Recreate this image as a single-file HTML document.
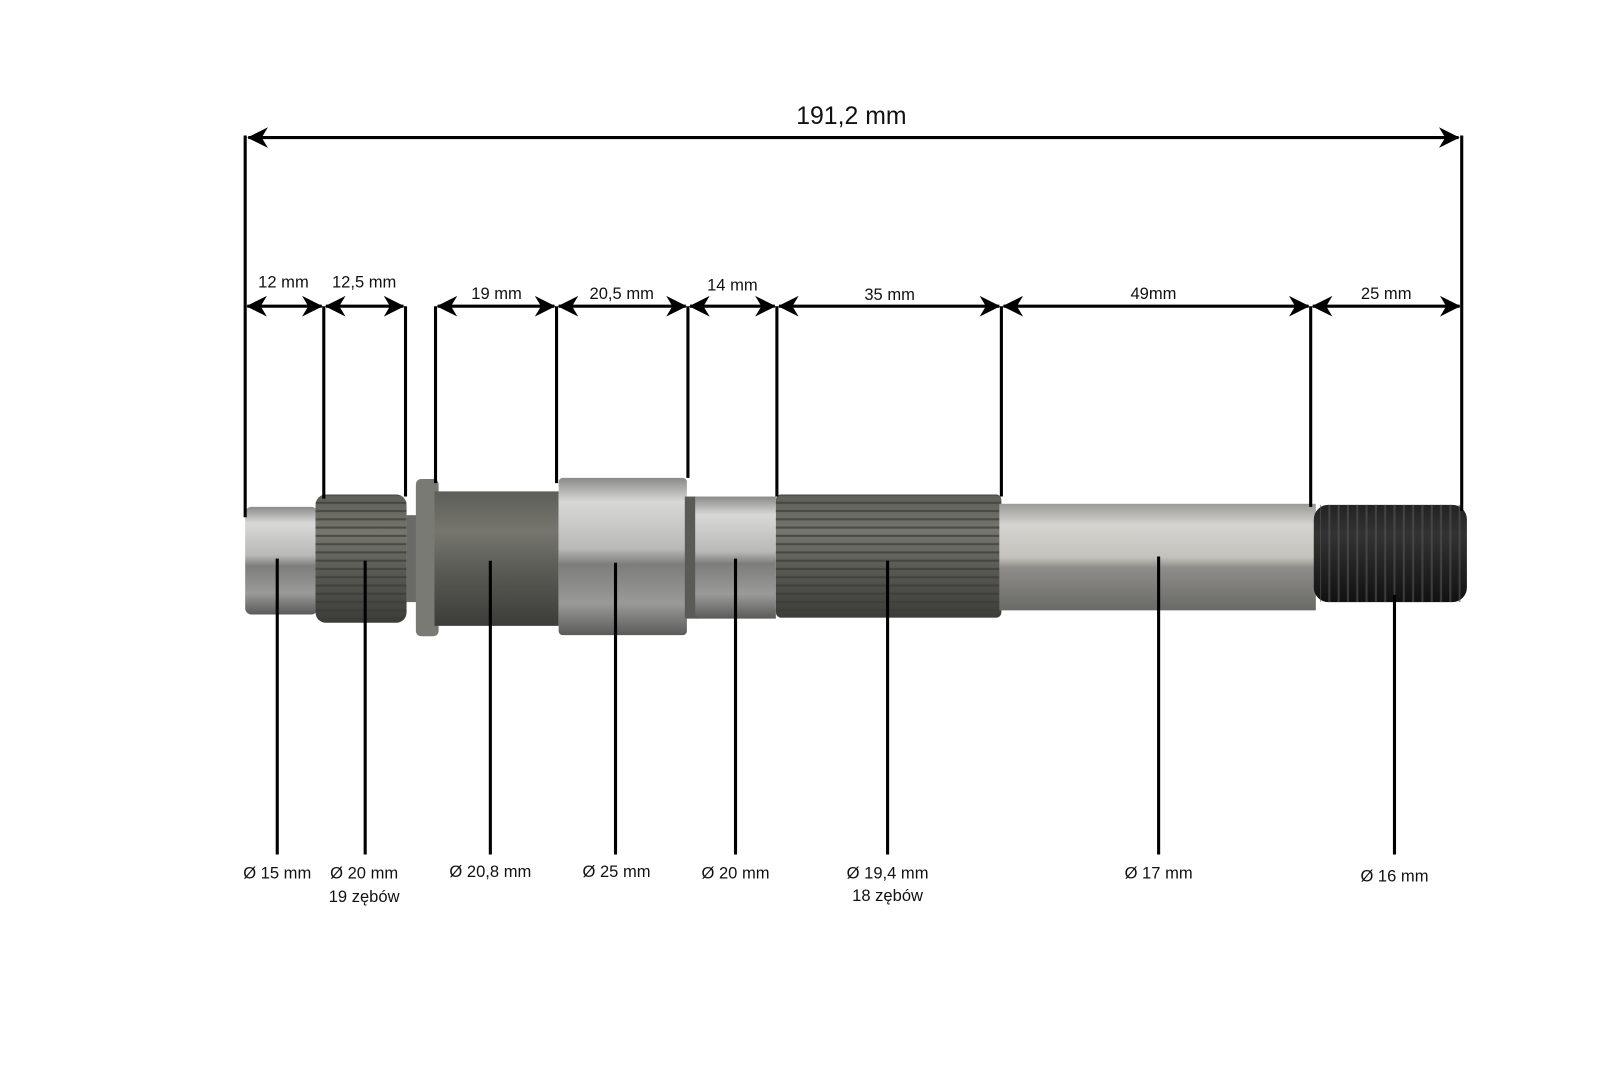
<!DOCTYPE html>
<html><head><meta charset="utf-8"><style>
html,body{margin:0;padding:0;background:#fff;}
svg{display:block}
text{font-family:"Liberation Sans","DejaVu Sans",sans-serif;fill:#111;text-anchor:middle}
</style></head><body>
<svg width="1620" height="1080" viewBox="0 0 1566 1044" preserveAspectRatio="none" xmlns="http://www.w3.org/2000/svg">
<defs>
<linearGradient id="lg" x1="0" y1="0" x2="0" y2="1">
<stop offset="0" stop-color="#8a8a88"/><stop offset="0.15" stop-color="#d8d8d6"/><stop offset="0.45" stop-color="#b9b9b7"/><stop offset="0.55" stop-color="#7d7d7b"/><stop offset="0.8" stop-color="#9a9a98"/><stop offset="1" stop-color="#5a5a58"/>
</linearGradient>
<linearGradient id="dg" x1="0" y1="0" x2="0" y2="1">
<stop offset="0" stop-color="#5e5e58"/><stop offset="0.3" stop-color="#76766f"/><stop offset="0.6" stop-color="#5a5a55"/><stop offset="1" stop-color="#3c3c38"/>
</linearGradient>
<linearGradient id="bg" x1="0" y1="0" x2="0" y2="1">
<stop offset="0" stop-color="#222"/><stop offset="0.3" stop-color="#333"/><stop offset="1" stop-color="#111"/>
</linearGradient>
<linearGradient id="pg" x1="0" y1="0" x2="0" y2="1">
<stop offset="0" stop-color="#9a9a96"/><stop offset="0.2" stop-color="#d6d4d0"/><stop offset="0.5" stop-color="#c4c2bc"/><stop offset="0.6" stop-color="#8e8d89"/><stop offset="1" stop-color="#6a6a66"/>
</linearGradient>
<pattern id="spl" width="8" height="8" patternUnits="userSpaceOnUse"><rect y="5" width="8" height="2" fill="#3a3a36" opacity="0.7"/></pattern>
<pattern id="thr" width="9" height="10" patternUnits="userSpaceOnUse"><rect x="6" width="2" height="10" fill="#555"/></pattern>
<marker id="a" viewBox="0 0 20 20" refX="19" refY="10" markerWidth="20" markerHeight="20" markerUnits="userSpaceOnUse" orient="auto-start-reverse"><path d="M0,0 L20,10 L0,20 L6,10 Z" fill="#000"/></marker>
</defs>

<rect x="237" y="490" width="70" height="104" rx="6" fill="url(#lg)"/>
<rect x="305" y="478" width="88" height="124" rx="10" fill="url(#dg)"/>
<rect x="305" y="478" width="88" height="124" rx="10" fill="url(#spl)"/>
<rect x="393" y="498" width="10" height="84" fill="#6a6a66"/>
<rect x="402" y="463" width="22" height="152" rx="5" fill="#7a7a74"/>
<rect x="420" y="475" width="120" height="130" fill="url(#dg)"/>
<rect x="540" y="462" width="124" height="152" rx="4" fill="url(#lg)"/>
<rect x="662" y="480" width="12" height="118" fill="#5a5a56"/>
<rect x="672" y="480" width="78" height="118" fill="url(#lg)"/>
<rect x="750" y="478" width="218" height="119" rx="5" fill="url(#dg)"/>
<rect x="750" y="478" width="218" height="119" rx="5" fill="url(#spl)"/>
<rect x="966" y="487" width="306" height="103" fill="url(#pg)"/>
<rect x="1270" y="488" width="148" height="94" rx="14" fill="url(#bg)"/>
<rect x="1276" y="488" width="136" height="94" fill="url(#thr)" opacity="0.6"/>

<g stroke="#000" stroke-width="3" fill="none">
<line x1="240" y1="133" x2="1410" y2="133" marker-start="url(#a)" marker-end="url(#a)"/>
<line x1="237" y1="131" x2="237" y2="500"/>
<line x1="1413" y1="131" x2="1413" y2="494"/>
<line x1="313" y1="296" x2="313" y2="482"/>
<line x1="392" y1="296" x2="392" y2="480"/>
<line x1="421" y1="296" x2="421" y2="467"/>
<line x1="538" y1="296" x2="538" y2="467"/>
<line x1="665" y1="296" x2="665" y2="462"/>
<line x1="751" y1="296" x2="751" y2="480"/>
<line x1="968" y1="296" x2="968" y2="480"/>
<line x1="1267" y1="296" x2="1267" y2="490"/>
<line x1="239" y1="296" x2="311" y2="296" marker-start="url(#a)" marker-end="url(#a)"/>
<line x1="315" y1="296" x2="390" y2="296" marker-start="url(#a)" marker-end="url(#a)"/>
<line x1="423" y1="296" x2="536" y2="296" marker-start="url(#a)" marker-end="url(#a)"/>
<line x1="540" y1="296" x2="663" y2="296" marker-start="url(#a)" marker-end="url(#a)"/>
<line x1="667" y1="296" x2="749" y2="296" marker-start="url(#a)" marker-end="url(#a)"/>
<line x1="753" y1="296" x2="966" y2="296" marker-start="url(#a)" marker-end="url(#a)"/>
<line x1="970" y1="296" x2="1265" y2="296" marker-start="url(#a)" marker-end="url(#a)"/>
<line x1="1269" y1="296" x2="1411" y2="296" marker-start="url(#a)" marker-end="url(#a)"/>
<line x1="268" y1="540" x2="268" y2="826"/>
<line x1="353" y1="542" x2="353" y2="826"/>
<line x1="474" y1="542" x2="474" y2="826"/>
<line x1="595" y1="544" x2="595" y2="826"/>
<line x1="711" y1="540" x2="711" y2="826"/>
<line x1="858" y1="542" x2="858" y2="826"/>
<line x1="1120" y1="538" x2="1120" y2="826"/>
<line x1="1348" y1="575" x2="1348" y2="826"/>
</g>

<text x="823" y="120" font-size="24">191,2 mm</text>
<g font-size="16">
<text x="274" y="278">12 mm</text>
<text x="352" y="278">12,5 mm</text>
<text x="480" y="289">19 mm</text>
<text x="601" y="289">20,5 mm</text>
<text x="708" y="281">14 mm</text>
<text x="860" y="290">35 mm</text>
<text x="1115" y="289">49mm</text>
<text x="1340" y="289">25 mm</text>
<text x="268" y="849">Ø 15 mm</text>
<text x="352" y="849">Ø 20 mm</text>
<text x="352" y="872">19 zębów</text>
<text x="474" y="848">Ø 20,8 mm</text>
<text x="596" y="848">Ø 25 mm</text>
<text x="711" y="849">Ø 20 mm</text>
<text x="858" y="849">Ø 19,4 mm</text>
<text x="858" y="871">18 zębów</text>
<text x="1120" y="849">Ø 17 mm</text>
<text x="1348" y="852">Ø 16 mm</text>
</g>
</svg>
</body></html>
